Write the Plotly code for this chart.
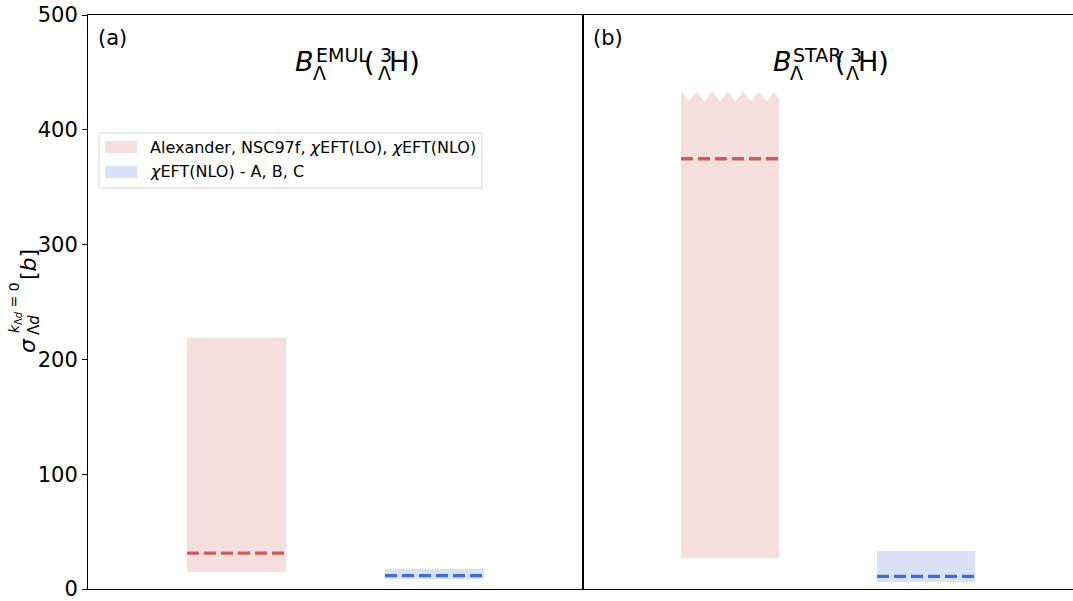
import numpy as np
import plotly.graph_objects as go

# ---------------- data ----------------
categories = ["Alexander, NSC97f, χEFT(LO), χEFT(NLO)", "χEFT(NLO) - A, B, C"]
legend_labels = ["Alexander, NSC97f, <i>χ</i>EFT(LO), <i>χ</i>EFT(NLO)",
                 "<i>χ</i>EFT(NLO) - A, B, C"]
positions = [0, 1]

emul_low = [14.5, 8.7]
emul_high = [218.6, 17.4]
emul_mid = [31.2, 11.6]

star_low = [27.0, 6.0]
star_high = [433.0, 33.1]
star_mid = [374.8, 11.0]
star_truncated = [True, False]   # upper edge drawn as a wavy "break"

y_ticks = [0, 100, 200, 300, 400, 500]

# ---------------- style ----------------
FONT = "DejaVu Sans"
BAND = ["rgba(205,92,92,0.2)", "rgba(65,105,225,0.2)"]
LINE = ["indianred", "royalblue"]
BAR_W = 0.5
W, H = 1073, 601
L, R, T, B = 88, 0, 15, 12
PW, PH = W - L - R, H - T - B
SPLIT = 583


def px(x):
    return (x - L) / PW


def py(y):
    return (H - B - y) / PH


fig = go.Figure()


def add_panel(xa, ya, low, high, mid, trunc):
    for i, p in enumerate(positions):
        x0, x1 = p - BAR_W / 2, p + BAR_W / 2
        if trunc[i]:
            amp = 3.9
            period = 0.079
            xs_top = np.linspace(x0, x1, 200)
            ys_top = high[i] - amp + amp * np.cos(2 * np.pi * (xs_top - x0) / period)
            xs = np.concatenate([[x0], xs_top, [x1, x0]])
            ys = np.concatenate([[low[i]], ys_top, [low[i], low[i]]])
            fig.add_trace(go.Scatter(x=xs, y=ys, fill="toself", fillcolor=BAND[i],
                                     line=dict(width=0), mode="lines",
                                     hoverinfo="skip", showlegend=False,
                                     xaxis=xa, yaxis=ya))
        else:
            fig.add_trace(go.Bar(x=[p], y=[high[i] - low[i]], base=[low[i]],
                                 width=BAR_W, marker=dict(color=BAND[i], line=dict(width=0)),
                                 name=categories[i], showlegend=False,
                                 xaxis=xa, yaxis=ya))
        fig.add_trace(go.Scatter(x=[x0, x1], y=[mid[i], mid[i]], mode="lines",
                                 line=dict(color=LINE[i], width=3.3, dash="12px,5px"),
                                 showlegend=False, xaxis=xa, yaxis=ya))


add_panel("x", "y", emul_low, emul_high, emul_mid, [False, False])
add_panel("x2", "y2", star_low, star_high, star_mid, star_truncated)

dom = px(SPLIT)
axis_common = dict(range=[-0.75, 1.75], showticklabels=False, ticks="",
                   showgrid=False, zeroline=False, showline=True,
                   linecolor="black", linewidth=1, mirror=True)
fig.update_layout(
    xaxis=dict(domain=[0, dom], **axis_common),
    xaxis2=dict(domain=[dom, 1], anchor="y2", **axis_common),
    yaxis=dict(range=[0, 500], tickvals=y_ticks, ticks="outside", ticklen=5,
               tickcolor="black", showgrid=False, zeroline=False, showline=True,
               linecolor="black", linewidth=1, mirror=True,
               ticklabeloverflow="allow",
               tickfont=dict(family=FONT, size=21, color="black")),
    yaxis2=dict(range=[0, 500], anchor="x2", showticklabels=False, ticks="",
                showgrid=False, zeroline=False, showline=True,
                linecolor="black", linewidth=1, mirror=False),
    width=W, height=H,
    margin=dict(l=L, r=R, t=T, b=B),
    paper_bgcolor="white", plot_bgcolor="white",
    showlegend=False,
    bargap=0,
)

ann = []


def text(x, y, s, size, xanchor="left", yanchor="middle", angle=0):
    ann.append(dict(xref="paper", yref="paper", x=px(x), y=py(y), text=s,
                    showarrow=False, xanchor=xanchor, yanchor=yanchor,
                    textangle=angle, borderpad=0,
                    font=dict(family=FONT, size=size, color="black")))


# panel labels
text(97, 38, "(a)", 21)
text(592, 38, "(b)", 21)

# panel titles B_Λ^X(^3_Λ H)
MAIN, SCR = 27, 19
# panel a
text(294, 62, "<i>B</i>", MAIN)
text(315, 55, "EMUL", SCR)
text(312, 73, "Λ", SCR)
text(363, 62, "(", MAIN)
text(379, 55, "3", SCR)
text(377, 73, "Λ", SCR)
text(388, 62, "H)", MAIN)
# panel b
text(772, 62, "<i>B</i>", MAIN)
text(792, 55, "STAR", SCR)
text(789, 73, "Λ", SCR)
text(834, 62, "(", MAIN)
text(849, 55, "3", SCR)
text(845, 73, "Λ", SCR)
text(857, 62, "H)", MAIN)

# y-axis label σ_Λd^{k_Λd = 0} [b]
text(27, 346, "<i>σ</i>", 22, xanchor="center", angle=-90)
text(34, 325, "Λ<i>d</i>", 15, xanchor="center", angle=-90)
text(15, 308, "<i>k</i><sub>Λ<i>d</i></sub> = 0", 14, xanchor="center", angle=-90)
text(28, 265, "[<i>b</i>]", 22, xanchor="center", angle=-90)

# legend (drawn manually to mimic wide swatches)
shapes = [dict(type="rect", xref="paper", yref="paper",
               x0=px(99), x1=px(482), y0=py(133), y1=py(188),
               line=dict(color="#d6d6d6", width=1), fillcolor="rgba(255,255,255,0.8)",
               layer="above")]
for i, yc in enumerate([147, 172]):
    shapes.append(dict(type="rect", xref="paper", yref="paper",
                       x0=px(105), x1=px(137), y0=py(yc - 6), y1=py(yc + 6),
                       line=dict(width=0), fillcolor=BAND[i], layer="above"))
    text(149, yc, legend_labels[i], 16)

fig.update_layout(annotations=ann, shapes=shapes)
fig.write_html("out.html")
